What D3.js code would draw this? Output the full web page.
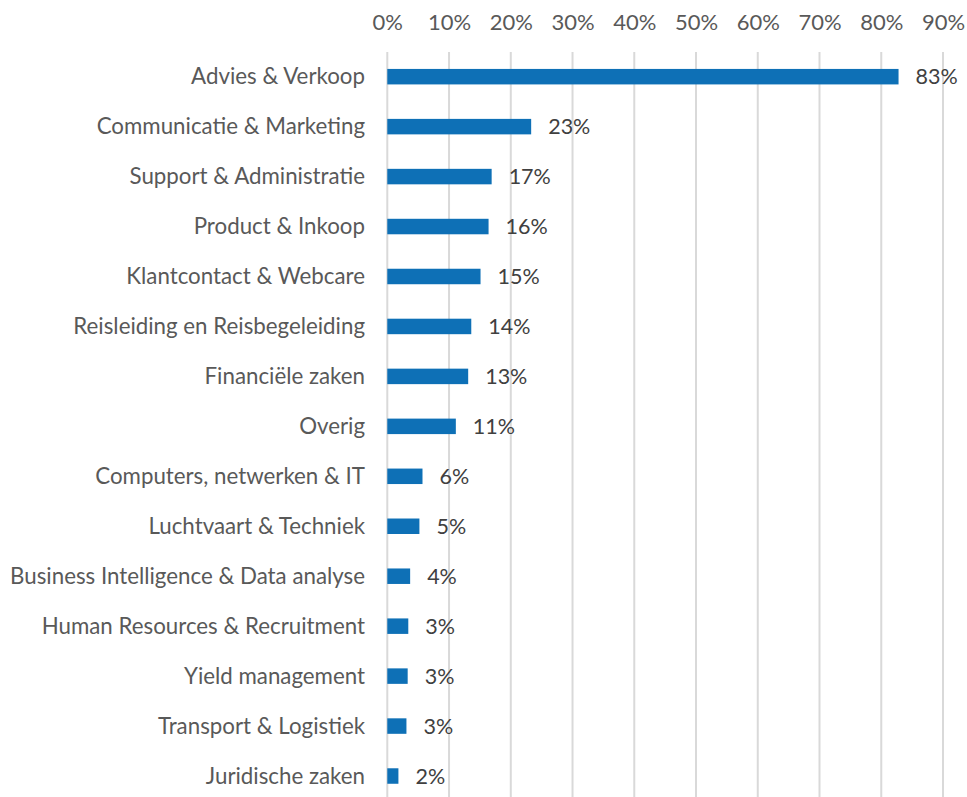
<!DOCTYPE html>
<html>
<head>
<meta charset="utf-8">
<script src="https://cdn.jsdelivr.net/npm/d3@7"></script>
<style>
  html, body { margin: 0; padding: 0; background: #fff; }
  svg { display: block; font-family: Lato, "Open Sans", sans-serif; }
</style>
</head>
<body>
<svg id="chart" width="967" height="797"></svg>
<script>
// Functiegebieden met het aandeel respondenten
const categories = [
  "Advies & Verkoop",
  "Communicatie & Marketing",
  "Support & Administratie",
  "Product & Inkoop",
  "Klantcontact & Webcare",
  "Reisleiding en Reisbegeleiding",
  "Financiële zaken",
  "Overig",
  "Computers, netwerken & IT",
  "Luchtvaart & Techniek",
  "Business Intelligence & Data analyse",
  "Human Resources & Recruitment",
  "Yield management",
  "Transport & Logistiek",
  "Juridische zaken"
];
const values = [0.828, 0.233, 0.169, 0.164, 0.151, 0.136, 0.131, 0.111, 0.057, 0.052, 0.037, 0.034, 0.033, 0.031, 0.018];
const tickValues = [0, 0.1, 0.2, 0.3, 0.4, 0.5, 0.6, 0.7, 0.8, 0.9];

const fontSize = 22;
const svg = d3.select("#chart");
const x = d3.scaleLinear().domain([0, 0.9]).range([387.3, 943]);
const y = d3.scaleBand().domain(categories).range([51.7, 801]).paddingInner(0.69).paddingOuter(0.345);
const pct = d3.format(".0%");

// verticale rasterlijnen
svg.append("g")
  .selectAll("line")
  .data(tickValues)
  .join("line")
  .attr("x1", d => x(d)).attr("x2", d => x(d))
  .attr("y1", 52).attr("y2", 797)
  .attr("stroke", "#d9d9d9").attr("stroke-width", 2);

// as bovenaan
const axis = svg.append("g")
  .attr("transform", "translate(0,30)")
  .call(d3.axisTop(x).tickValues(tickValues).tickFormat(pct).tickSize(0).tickPadding(0));
axis.select(".domain").remove();
axis.selectAll("text")
  .attr("font-family", "Lato, sans-serif")
  .attr("font-size", fontSize)
  .attr("fill", "#595959");

// categorielabels
svg.append("g")
  .selectAll("text")
  .data(categories)
  .join("text")
  .attr("x", 365)
  .attr("y", d => y(d) + y.bandwidth() / 2)
  .attr("dy", "0.35em")
  .attr("text-anchor", "end")
  .attr("font-size", 22.3)
  .attr("fill", "#595959")
  .text(d => d);

// balken
svg.append("g")
  .selectAll("rect")
  .data(values)
  .join("rect")
  .attr("x", x(0))
  .attr("y", (d, i) => y(categories[i]))
  .attr("width", d => x(d) - x(0))
  .attr("height", y.bandwidth())
  .attr("fill", "#0e70b6");

// waardelabels
svg.append("g")
  .selectAll("text")
  .data(values)
  .join("text")
  .attr("x", d => x(d) + 17)
  .attr("y", (d, i) => y(categories[i]) + y.bandwidth() / 2)
  .attr("dy", "0.35em")
  .attr("font-size", 21.5)
  .attr("fill", "#404040")
  .text(d => pct(d));
</script>
</body>
</html>
